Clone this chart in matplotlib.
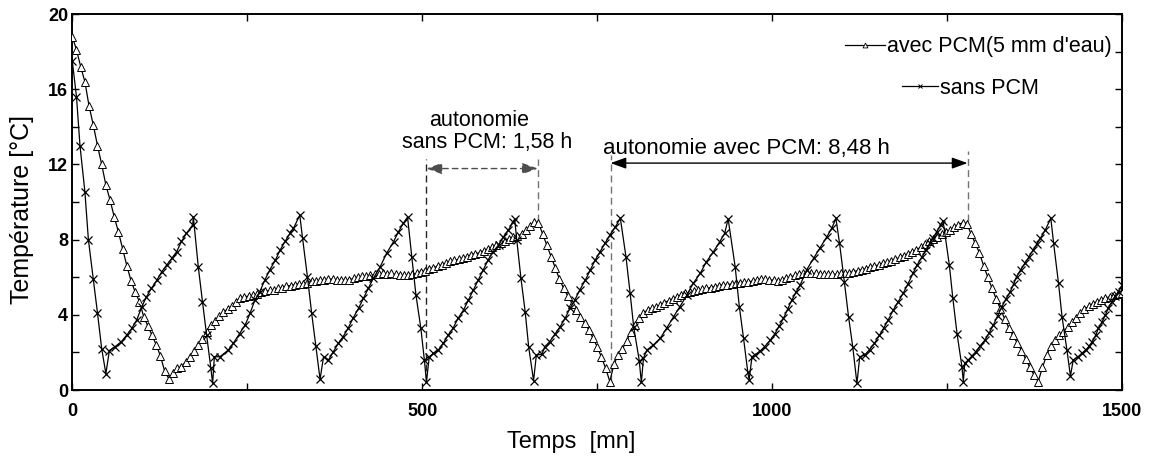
import numpy as np
import matplotlib
matplotlib.use('Agg')
import matplotlib.pyplot as plt
from matplotlib.lines import Line2D

plt.rcParams['font.family'] = ['Liberation Sans', 'DejaVu Sans']

# avec PCM (5 mm d'eau) : one reading every 6 min
t_avec = np.arange(0, 1501, 6)
T_avec = [
    18.8, 18.1, 17.2, 16.4, 15.1, 14.1, 13.0, 12.0, 10.9, 10.1,
    9.2, 8.4, 7.5, 6.6, 5.8, 5.2, 4.7, 3.9, 3.4, 2.9,
    2.4, 1.8, 1.0, 0.6, 0.9, 1.15, 1.25, 1.5, 1.75, 2.05,
    2.4, 2.7, 3.1, 3.45, 3.65, 3.95, 4.15, 4.3, 4.45, 4.7,
    4.9, 4.95, 5.0, 5.05, 5.1, 5.2, 5.25, 5.3, 5.3, 5.4,
    5.45, 5.55, 5.55, 5.6, 5.65, 5.65, 5.7, 5.8, 5.8, 5.85,
    5.85, 5.9, 5.9, 5.85, 5.85, 5.85, 5.85, 5.95, 6.0, 6.05,
    6.05, 6.1, 6.15, 6.15, 6.2, 6.15, 6.2, 6.15, 6.1, 6.1,
    6.1, 6.15, 6.2, 6.3, 6.35, 6.45, 6.5, 6.6, 6.65, 6.75,
    6.85, 6.9, 6.95, 7.0, 7.1, 7.2, 7.25, 7.3, 7.4, 7.5,
    7.6, 7.7, 7.8, 7.95, 8.05, 8.15, 8.2, 8.3, 8.5, 8.7,
    8.95, 8.9, 8.3, 7.7, 7.1, 6.5, 5.9, 5.4, 5.0, 4.6,
    4.25, 3.9, 3.55, 3.2, 2.75, 2.3, 1.75, 1.15, 0.45, 1.4,
    1.85, 2.2, 2.6, 3.1, 3.45, 3.85, 4.1, 4.25, 4.35, 4.4,
    4.5, 4.65, 4.75, 4.85, 4.95, 5.05, 5.15, 5.2, 5.25, 5.3,
    5.35, 5.4, 5.45, 5.5, 5.55, 5.6, 5.6, 5.65, 5.7, 5.7,
    5.75, 5.75, 5.8, 5.85, 5.9, 5.9, 5.85, 5.85, 5.8, 5.85,
    5.95, 6.0, 6.1, 6.15, 6.2, 6.2, 6.2, 6.2, 6.15, 6.15,
    6.15, 6.15, 6.15, 6.2, 6.2, 6.25, 6.3, 6.35, 6.4, 6.45,
    6.55, 6.6, 6.65, 6.75, 6.8, 6.85, 6.95, 7.05, 7.15, 7.25,
    7.35, 7.45, 7.6, 7.75, 7.9, 8.05, 8.15, 8.3, 8.4, 8.5,
    8.65, 8.8, 8.9, 8.85, 8.3, 7.8, 7.3, 6.6, 6.0, 5.4,
    4.85, 4.3, 3.8, 3.3, 2.9, 2.5, 2.1, 1.65, 1.2, 0.8,
    0.45, 1.2, 1.85, 2.35, 2.65, 2.9, 3.1, 3.35, 3.6, 3.85,
    4.1, 4.3, 4.45, 4.6, 4.7, 4.8, 4.9, 4.95, 5.05, 5.1,
    5.15,
]

# sans PCM : readings (time in mn, temperature in degC)
t_sans = [
    0, 6, 11, 18, 23, 30, 36, 42, 48, 53,
    61, 70, 78, 85, 92, 99, 106, 113, 121, 128, 135, 142, 149, 156, 163, 172, 173,
    180, 186, 192, 198, 200.5, 203, 211,
    223, 230, 239, 247, 254, 261, 268, 275, 282, 290, 297, 304, 311, 316, 325,
    329, 336, 342, 348, 354, 359, 366,
    373, 380, 387, 394, 401, 409, 416, 423, 430, 440, 449, 459, 466, 473, 479,
    485, 491, 498, 503, 506, 510,
    516, 523, 530, 537, 544, 551, 559, 566, 573, 580, 587, 594, 601, 609, 616, 623, 630, 632,
    635, 641, 647, 652, 659, 663, 671,
    675, 682, 690, 697, 704, 711, 718, 725, 733, 740, 747, 754, 761, 768, 776, 783,
    791, 797, 802, 810, 813, 816,
    821, 830, 840, 849, 859, 868, 878, 887, 897, 906, 916, 925, 932, 937,
    947, 953, 959, 965, 967, 971,
    975, 982, 989, 997, 1004, 1010, 1016, 1022, 1028, 1034, 1040, 1049, 1059, 1068, 1078, 1085, 1091,
    1096, 1103, 1109, 1115, 1121, 1125, 1132,
    1139, 1146, 1153, 1159, 1166, 1173, 1180, 1187, 1194, 1201, 1207, 1214, 1220, 1225, 1230, 1235, 1241, 1244,
    1253, 1258, 1264, 1271, 1273, 1275, 1280,
    1285, 1291, 1297, 1304, 1310, 1316, 1322, 1328, 1334, 1340, 1345, 1349, 1355, 1361, 1367, 1373, 1378, 1383, 1390, 1398,
    1402, 1409, 1414, 1421, 1426, 1430, 1437,
    1442, 1448, 1453, 1457, 1462, 1466, 1471, 1476, 1480, 1485, 1490, 1495, 1500,
]
T_sans = [
    17.5, 15.6, 13.0, 10.55, 8.0, 5.9, 4.1, 2.2, 0.87, 2.1,
    2.3, 2.57, 2.93, 3.28, 3.72, 4.4, 4.96, 5.4, 5.85, 6.3, 6.65, 7.0, 7.35, 7.9, 8.33, 8.78, 9.2,
    6.55, 4.7, 2.9, 1.15, 0.35, 1.77, 1.77,
    2.13, 2.48, 3.0, 3.46, 4.08, 4.8, 5.23, 5.85, 6.38, 6.9, 7.45, 7.9, 8.33, 8.6, 9.3,
    8.07, 6.0, 4.08, 2.34, 0.57, 1.77, 1.6,
    2.04, 2.48, 2.84, 3.28, 3.81, 4.35, 4.88, 5.41, 5.94, 6.56, 7.27, 7.89, 8.42, 8.87, 9.2,
    7.09, 5.05, 3.28, 1.6, 0.45, 1.77,
    1.95, 2.13, 2.48, 2.93, 3.28, 3.81, 4.26, 4.79, 5.32, 5.85, 6.38, 6.91, 7.36, 7.71, 8.15, 8.51, 8.95, 9.1,
    7.98, 5.94, 4.17, 2.3, 0.5, 1.86, 1.9,
    2.3, 2.57, 3.0, 3.37, 3.81, 4.35, 4.79, 5.32, 5.85, 6.38, 6.91, 7.36, 7.8, 8.24, 8.69, 9.13,
    7.09, 5.14, 3.37, 1.56, 0.4, 1.69,
    2.13, 2.39, 2.75, 3.28, 3.9, 4.43, 5.05, 5.67, 6.2, 6.82, 7.36, 7.89, 8.33, 9.1,
    6.56, 4.43, 2.75, 0.97, 0.53, 1.77,
    1.86, 2.05, 2.3, 2.65, 3.0, 3.4, 3.81, 4.3, 4.79, 5.2, 5.59, 6.38, 7.0, 7.54, 8.15, 8.6, 9.13,
    7.84, 5.76, 3.9, 2.3, 0.35, 1.77, 1.86,
    2.15, 2.48, 2.9, 3.28, 3.75, 4.26, 4.7, 5.14, 5.65, 6.2, 6.65, 7.09, 7.45, 7.8, 8.1, 8.42, 8.8, 9.0,
    6.65, 4.88, 3.0, 1.24, 0.44, 1.42, 1.6,
    1.8, 2.04, 2.35, 2.66, 3.05, 3.46, 3.95, 4.43, 4.85, 5.23, 5.65, 6.03, 6.4, 6.74, 7.1, 7.45, 7.75, 8.07, 8.51, 9.13,
    7.8, 5.67, 3.9, 2.13, 0.74, 1.6, 1.77,
    1.95, 2.13, 2.35, 2.57, 2.9, 3.28, 3.6, 3.99, 4.35, 4.7, 5.0, 5.23, 5.6,
]

# autonomy intervals (mn)
sans_auto = (506, 665)
avec_auto = (769, 1279)

x_ticks = [0, 250, 500, 750, 1000, 1250, 1500]
x_labels = ['0', '', '500', '', '1000', '', '1500']
y_ticks = [0, 2, 4, 6, 8, 10, 12, 14, 16, 18, 20]
y_labels = ['0', '', '4', '', '8', '', '12', '', '16', '', '20']

fig = plt.figure(figsize=(11.51, 4.61), dpi=100)
ax = fig.add_axes([0.0628, 0.154, 0.9122, 0.8156])

ax.plot(t_avec, T_avec, color='k', lw=0.9, marker='^', ms=5.5,
        mfc='white', mec='k', mew=0.7, zorder=3)
ax.plot(t_sans, T_sans, color='k', lw=0.9, marker='x', ms=6,
        mew=0.9, zorder=3)

# autonomy annotations
ax.plot([sans_auto[0]] * 2, [0.45, 12.3], color='0.15', lw=1, ls=(0, (5, 3)))
ax.plot([sans_auto[1]] * 2, [9.0, 12.3], color='0.45', lw=1, ls=(0, (5, 3)))
ax.plot([avec_auto[0]] * 2, [0.45, 12.5], color='0.45', lw=1, ls=(0, (5, 3)))
ax.plot([avec_auto[1]] * 2, [9.0, 12.7], color='0.45', lw=1, ls=(0, (5, 3)))

ax.annotate('', xy=(sans_auto[0], 11.78), xytext=(sans_auto[1], 11.78),
            arrowprops=dict(arrowstyle='<|-|>,head_length=0.47,head_width=0.17',
                            color='0.3', lw=1, ls=(0, (4, 3)),
                            shrinkA=0, shrinkB=0, mutation_scale=20))
ax.annotate('', xy=(avec_auto[0], 12.07), xytext=(avec_auto[1], 12.07),
            arrowprops=dict(arrowstyle='<|-|>,head_length=0.47,head_width=0.17',
                            color='k', lw=1, shrinkA=0, shrinkB=0,
                            mutation_scale=20))

ax.text(581, 14.36, 'autonomie', ha='center', va='center', fontsize=15.5)
ax.text(593, 13.18, 'sans PCM: 1,58 h', ha='center', va='center', fontsize=15.5)
ax.text(963, 12.85, 'autonomie avec PCM: 8,48 h', ha='center', va='center',
        fontsize=16)

# legend, two separate entries like the original
h1 = Line2D([], [], color='k', lw=0.9, marker='^', ms=3.5, mfc='white', mew=0.6)
h2 = Line2D([], [], color='k', lw=0.9, marker='x', ms=3.5, mew=0.7)
leg1 = ax.legend([h1], ["avec PCM(5 mm d'eau)"], loc='center left',
                 bbox_to_anchor=(0.736, 0.913), frameon=False, fontsize=15.5,
                 borderpad=0, borderaxespad=0, handlelength=1.85,
                 handletextpad=0.1)
ax.add_artist(leg1)
ax.legend([h2], ['sans PCM'], loc='center left',
          bbox_to_anchor=(0.79, 0.802), frameon=False, fontsize=15.5,
          borderpad=0, borderaxespad=0, handlelength=1.7,
          handletextpad=0.1)

ax.set_xlim(0, 1500)
ax.set_ylim(0, 20)
ax.set_xticks(x_ticks)
ax.set_xticklabels(x_labels, fontweight='bold', fontsize=13)
ax.set_yticks(y_ticks)
ax.set_yticklabels(y_labels, fontweight='bold', fontsize=13)
ax.tick_params(direction='in', length=5, width=1, top=True, right=True)
ax.tick_params(axis='x', pad=9)
ax.tick_params(axis='y', pad=3)
for s in ax.spines.values():
    s.set_linewidth(1.4)

ax.set_xlabel('Temps  [mn]', fontsize=17)
ax.xaxis.set_label_coords(0.4756, -0.11)
ax.set_ylabel('Température [°C]', fontsize=18)
ax.yaxis.set_label_coords(-0.036, 0.479)

fig.savefig('out.png', dpi=100)
